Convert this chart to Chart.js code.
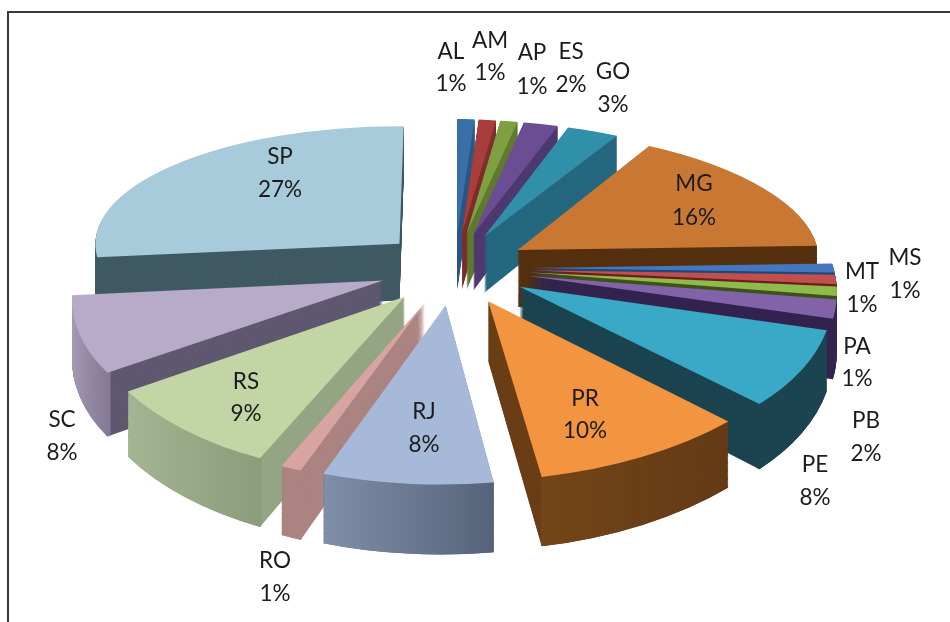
<!DOCTYPE html>
<html><head><meta charset="utf-8">
<style>html,body{margin:0;padding:0;background:#fff}canvas{display:block}</style>
<script src="https://cdn.jsdelivr.net/npm/chart.js@4"></script>
</head><body>
<canvas id="c" width="950" height="622"></canvas>
<script>
const categories = ['AL','AM','AP','ES','GO','MG','MS','MT','PA','PB','PE','PR','RJ','RO','RS','SC','SP'];
const shares = [1,1,1,2,3,16,1,1,1,2,8,10,8,1,9,8,27];
const topColors = ['#3a70a8','#a83e3b','#7fa040','#6a4d93','#3090a9','#c97834','#4477bf','#c0504d','#8ebb4c','#8263aa','#3aa9c8','#f39441','#a7b9d8','#d7a4a1','#c3d5a4','#b8aac9','#a7cbdb'];
const cutColors = ['#2b5787','#7f2e2b','#5f7a2f','#4e3870','#24677f','#55300f','#1f4a78','#6a201e','#3f5218','#33234e','#1b4450','#6b3f17','#56637a','#ab8380','#93a583','#5f5870','#3f5a63'];
const rimLeft = ['#2b5787','#7f2e2b','#5f7a2f','#4e3870','#24677f','#55300f','#1f4a78','#6a201e','#3f5218','#33234e','#1b4450','#734518','#808fa9','#ab8380','#a3b592','#a79cb6','#3f5a63'];
const rimRight = ['#2b5787','#7f2e2b','#5f7a2f','#4e3870','#24677f','#55300f','#1f4a78','#6a201e','#3f5218','#33234e','#1b4450','#633a15','#55627a','#ab8380','#8a9c7a','#857a95','#3f5a63'];
const labelSpots = [[451,52,84],[490,41,73],[532,53,87],[571,52,85],[613,72,105],[694,184,218],[905,258,291],[862,272,305],[857,347,379],[866,421,454],[815,465,498],[585,399,431],[424,412,445],[275,561,594],[246,382,414],[62,420,453],[280,157,190]];
const radiusPx = 305, explode = 75, depth = 58;
const cam = {cx:455, cy:268, k:0.485, pFront:0.0004, pBack:0.00062, px:0.00027, shear:0.06, shearFade:400, roll:0.015};

function project(X,Y,Z){
  const w = 1 - 0.00045*Y, wb = 1 - (Y<0 ? cam.pBack : cam.pFront)*Y, wx = 1 - cam.px*Y;
  const fade = Math.max(0, 1 - Math.max(X,0)/cam.shearFade);
  return [cam.cx + X/wx - (Y>0 ? cam.shear*Y*fade : 0), cam.cy + cam.k*Y/wb + Z/w + cam.roll*X];
}
function sliceMatrix(el, Z){
  const s = el.startAngle, e = el.endAngle, m = (s+e)/2, R = el.outerRadius;
  const ox = explode*Math.cos(m), oy = explode*Math.sin(m);
  const b = [R*Math.cos(s), R*Math.sin(s)], c = [R*Math.cos(e), R*Math.sin(e)];
  const P0 = project(ox,oy,Z), Pb = project(ox+b[0],oy+b[1],Z), Pc = project(ox+c[0],oy+c[1],Z);
  const det = b[0]*c[1]-c[0]*b[1];
  const ub = [Pb[0]-P0[0],Pb[1]-P0[1]], uc = [Pc[0]-P0[0],Pc[1]-P0[1]];
  const a1 = (ub[0]*c[1]-uc[0]*b[1])/det, c1 = (uc[0]*b[0]-ub[0]*c[0])/det;
  const b1 = (ub[1]*c[1]-uc[1]*b[1])/det, d1 = (uc[1]*b[0]-ub[1]*c[0])/det;
  return [a1,b1,c1,d1,P0[0]-a1*el.x-c1*el.y,P0[1]-b1*el.x-d1*el.y];
}
function paint(ctx, el, color, Z, inner){
  const o = el.options, ir = el.innerRadius;
  el.options = {backgroundColor:color,borderColor:'rgba(0,0,0,0)',borderWidth:0,borderAlign:'center',spacing:0,offset:0,borderRadius:0,circular:true};
  el.innerRadius = inner;
  ctx.save();
  ctx.transform(...sliceMatrix(el,Z));
  el.draw(ctx);
  ctx.restore();
  el.options = o; el.innerRadius = ir;
}
function rimFill(ctx, el, i){
  const R = el.outerRadius;
  const xs = [Math.cos(el.startAngle), Math.cos(el.endAngle)].map(v=>el.x+R*v);
  const g = ctx.createLinearGradient(Math.min(...xs),0,Math.max(...xs)+1,0);
  g.addColorStop(0,rimLeft[i]); g.addColorStop(1,rimRight[i]);
  return g;
}
const pie3d = {
  id:'pie3d',
  beforeDatasetsDraw(chart){
    const ctx = chart.ctx, arcs = chart.getDatasetMeta(0).data;
    const order = arcs.map((_,i)=>i).sort((a,b)=>
      Math.sin((arcs[a].startAngle+arcs[a].endAngle)/2)-Math.sin((arcs[b].startAngle+arcs[b].endAngle)/2));
    for(const i of order){
      const el = arcs[i], rim = rimFill(ctx,el,i);
      for(let z=depth;z>0;z-=1) paint(ctx,el,cutColors[i],z,0);
      for(let z=depth;z>0;z-=1) paint(ctx,el,rim,z,el.outerRadius-4);
      paint(ctx,el,topColors[i],0,0);
    }
    return false;
  },
  afterDraw(chart){
    const ctx = chart.ctx;
    ctx.save();
    ctx.strokeStyle='#3a3a3a';ctx.lineWidth=2;
    ctx.beginPath();ctx.moveTo(8,622);ctx.lineTo(8,12);ctx.lineTo(950,12);ctx.stroke();
    ctx.fillStyle='#1c1c1c';ctx.font='22.5px Lato';ctx.textAlign='center';ctx.textBaseline='middle';
    categories.forEach((name,i)=>{
      const [x,y1,y2]=labelSpots[i];
      ctx.fillText(name,x,y1);
      ctx.fillText(shares[i]+'%',x,y2);
    });
    ctx.restore();
  }
};
new Chart(document.getElementById('c'),{
  type:'pie',
  data:{labels:categories,datasets:[{data:shares,backgroundColor:topColors,borderWidth:0,radius:radiusPx}]},
  options:{responsive:false,animation:false,devicePixelRatio:1,rotation:0,
    plugins:{legend:{display:false},tooltip:{enabled:false}},layout:{padding:0}},
  plugins:[pie3d]
});
</script>
</body></html>
